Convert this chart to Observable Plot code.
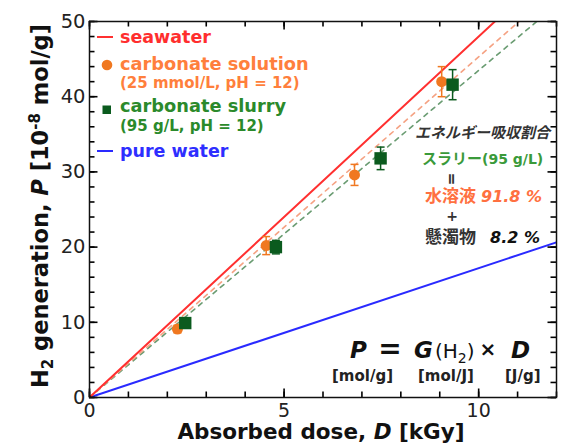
<!DOCTYPE html>
<html><head><meta charset="utf-8">
<script src="https://cdn.jsdelivr.net/npm/d3@7"></script>
<script src="https://cdn.jsdelivr.net/npm/@observablehq/plot@0.6"></script>
<style>body{margin:0;background:#fff;} #chart svg{display:block}</style>
</head><body><div id="chart"></div>
<script>
// ---- data ----
const doseSolution = [2.26, 4.54, 6.81, 9.05];
const genSolution  = [9.1, 20.2, 29.6, 42.0];
const errSolution  = [0.5, 1.2, 1.4, 2.0];
const doseSlurry   = [2.46, 4.79, 7.48, 9.33];
const genSlurry    = [9.9, 20.0, 31.8, 41.6];
const errSlurry    = [0.5, 0.9, 1.5, 2.0];
const fitNames  = ["seawater", "carbonate solution", "carbonate slurry", "pure water"];
const fitSlopes = [4.80, 4.53, 4.35, 1.72];   // G(H2), 10^-8 mol/g per kGy
const doseRange = [0, 12];
const genRange  = [0, 50];
const xMajorTicks = [0, 5, 10];
const yMajorTicks = [0, 10, 20, 30, 40, 50];
const xMinorTicks = d3.range(0, 13, 1);
const yMinorTicks = d3.range(0, 51, 2);

const solution = doseSolution.map((D, i) => ({D, P: genSolution[i], e: errSolution[i]}));
const slurry = doseSlurry.map((D, i) => ({D, P: genSlurry[i], e: errSlurry[i]}));
const fits = fitNames.map((name, i) => doseRange.map(D => ({name, D, P: D * fitSlopes[i]})));

const W = 563, H = 448, ML = 89, MR = 7, MT = 21, MB = 51;
const FW = W - ML - MR, FH = H - MT - MB;

const C = {
  sea: "#ff3030", solLine: "#f5a283", slurLine: "#6a9c72", pure: "#2a2aff",
  sol: "#f07820", slur: "#0b5b1e"
};
const cap = {draw(ctx) { ctx.moveTo(-4, 0); ctx.lineTo(4, 0); }};
const tk = {stroke: "#000", strokeWidth: 1.6};
const inTicks = (len, xs, ys) => [
  Plot.ruleX(xs, {x: d => d, insetTop: FH - len, ...tk}),
  Plot.ruleX(xs, {x: d => d, insetBottom: FH - len, ...tk}),
  Plot.ruleY(ys, {y: d => d, insetRight: FW - len, ...tk}),
  Plot.ruleY(ys, {y: d => d, insetLeft: FW - len, ...tk})
];

const plot = Plot.plot({
  width: W, height: H,
  marginLeft: ML, marginRight: MR, marginTop: MT, marginBottom: MB,
  x: {domain: doseRange},
  y: {domain: genRange},
  style: {fontFamily: "DejaVu Sans", background: "white", color: "#1a1a1a"},
  marks: [
    Plot.line(fits[3], {x: "D", y: "P", stroke: C.pure, strokeWidth: 2, clip: true}),
    Plot.line(fits[2], {x: "D", y: "P", stroke: C.slurLine, strokeWidth: 1.6, strokeDasharray: "4.5,5", clip: true}),
    Plot.line(fits[1], {x: "D", y: "P", stroke: C.solLine, strokeWidth: 1.6, strokeDasharray: "4.5,5", clip: true}),
    Plot.line(fits[0], {x: "D", y: "P", stroke: C.sea, strokeWidth: 2, clip: true}),
    Plot.ruleX(solution, {x: "D", y1: d => d.P - d.e, y2: d => d.P + d.e, stroke: C.sol, strokeWidth: 1.5}),
    Plot.dot(solution, {x: "D", y: d => d.P + d.e, symbol: cap, stroke: C.sol, strokeWidth: 1.5, fill: "none"}),
    Plot.dot(solution, {x: "D", y: d => d.P - d.e, symbol: cap, stroke: C.sol, strokeWidth: 1.5, fill: "none"}),
    Plot.ruleX(slurry, {x: "D", y1: d => d.P - d.e, y2: d => d.P + d.e, stroke: C.slur, strokeWidth: 1.5}),
    Plot.dot(slurry, {x: "D", y: d => d.P + d.e, symbol: cap, stroke: C.slur, strokeWidth: 1.5, fill: "none"}),
    Plot.dot(slurry, {x: "D", y: d => d.P - d.e, symbol: cap, stroke: C.slur, strokeWidth: 1.5, fill: "none"}),
    Plot.dot(solution, {x: "D", y: "P", r: 5.5, fill: C.sol, stroke: null}),
    Plot.dot(slurry, {x: "D", y: "P", r: 7, symbol: "square", fill: C.slur, stroke: null}),
    ...inTicks(5.5, xMinorTicks, yMinorTicks),
    ...inTicks(8.5, xMajorTicks, yMajorTicks),
    Plot.axisX(xMajorTicks, {anchor: "bottom", tickSize: 0, tickPadding: 6, label: null, fontSize: 19, fill: "#222"}),
    Plot.axisY(yMajorTicks, {anchor: "left", tickSize: 0, tickPadding: 4, label: null, fontSize: 19.5, fill: "#222"}),
    Plot.frame({stroke: "#111", strokeWidth: 1.5})
  ]
});
document.getElementById("chart").append(plot);

// ---- rich text annotations ----
const svg = d3.select(plot);
const DJ = "DejaVu Sans", JP = "'Noto Sans CJK JP', 'Noto Sans CJK SC', sans-serif";
function rich(x, y, parts, o = {}) {
  const t = svg.append("text").attr("x", x).attr("y", y)
    .attr("text-anchor", o.anchor || "start")
    .attr("font-family", o.family || DJ)
    .attr("font-size", o.size || 16)
    .attr("font-weight", o.weight || "bold")
    .attr("fill", o.fill || "#111");
  if (o.transform) t.attr("transform", o.transform);
  for (const p of parts) {
    const s = t.append("tspan").text(p.t);
    if (p.size) s.attr("font-size", p.size);
    if (p.weight) s.attr("font-weight", p.weight);
    if (p.style) s.attr("font-style", p.style);
    if (p.fill) s.attr("fill", p.fill);
    if (p.family) s.attr("font-family", p.family);
    if (p.dy) s.attr("dy", p.dy);
    if (p.dx) s.attr("dx", p.dx);
  }
  return t;
}

// axis titles
rich(0, 0, [
  {t: "H"}, {t: "2", size: 15, dy: 5}, {t: " generation, ", dy: -5}, {t: "P", style: "italic"},
  {t: " [10"}, {t: "-8", size: 15, dy: -8}, {t: " mol/g]", dy: 8}
], {anchor: "middle", size: 22.5, fill: "#111", transform: "translate(48,206) rotate(-90)"});
rich(321, 439, [{t: "Absorbed dose, "}, {t: "D", style: "italic"}, {t: " [kGy]"}],
  {anchor: "middle", size: 21.5, fill: "#111"});

// legend
const lg = svg.append("g");
lg.append("line").attr("x1", 97).attr("x2", 113).attr("y1", 37).attr("y2", 37).attr("stroke", C.sea).attr("stroke-width", 2);
lg.append("line").attr("x1", 97).attr("x2", 113).attr("y1", 151).attr("y2", 151).attr("stroke", C.pure).attr("stroke-width", 2);
lg.append("circle").attr("cx", 107).attr("cy", 65).attr("r", 5.3).attr("fill", C.sol);
lg.append("rect").attr("x", 102.5).attr("y", 105.5).attr("width", 8.5).attr("height", 8.5).attr("fill", C.slur);
rich(120, 43, [{t: "seawater"}], {size: 17.5, fill: "#ff2e2e"});
rich(120, 70, [{t: "carbonate solution"}], {size: 17.8, fill: "#ff7f3c"});
rich(120, 88, [{t: "(25 mmol/L, pH = 12)"}], {size: 15, fill: "#ff7f3c"});
rich(120, 112, [{t: "carbonate slurry"}], {size: 17.8, fill: "#2b8a2b"});
rich(120, 131, [{t: "(95 g/L, pH = 12)"}], {size: 15, fill: "#2b8a2b"});
rich(120, 157, [{t: "pure water"}], {size: 17.5, fill: "#2e2eff"});

// energy absorption ratio block
rich(482.5, 138, [{t: "エネルギー吸収割合"}], {anchor: "middle", family: JP, size: 15, fill: "#333", weight: "bold"}).attr("font-style", "italic");
rich(422, 163.5, [{t: "スラリー", family: JP, size: 15}, {t: "(95 g/L)", family: DJ, size: 14}], {fill: "#3a9a3a"});
rich(0, 0, [{t: "="}], {anchor: "middle", size: 15, fill: "#333", transform: "translate(452,179) rotate(90)"}).attr("dominant-baseline", "central");
rich(425, 202, [{t: "水溶液", family: JP, size: 17}, {t: "91.8 %", family: DJ, size: 16, style: "italic", dx: 5}], {fill: "#ff7040"});
rich(452, 216, [{t: "+"}], {anchor: "middle", size: 14, fill: "#333"}).attr("dominant-baseline", "central");
rich(425, 243, [{t: "懸濁物", family: JP, size: 17, fill: "#333"}, {t: "8.2 %", family: DJ, size: 16, style: "italic", dx: 14, fill: "#111"}], {fill: "#333"});

// formula P = G(H2) x D
rich(350, 358, [{t: "P"}], {size: 23, fill: "#111"}).attr("font-style", "italic");
rich(390, 358, [{t: "="}], {anchor: "middle", size: 28, fill: "#111"});
rich(414, 358, [{t: "G"}], {size: 23, fill: "#111"}).attr("font-style", "italic");
rich(435, 358, [{t: "(H"}, {t: "2", size: 14, dy: 5}, {t: ")", dy: -5}], {size: 20, weight: "normal", fill: "#111"});
rich(488, 356, [{t: "×"}], {anchor: "middle", size: 20, fill: "#111"});
rich(511, 358, [{t: "D"}], {size: 23, fill: "#111"}).attr("font-style", "italic");
rich(332, 381, [{t: "[mol/g]"}], {size: 15, fill: "#222"});
rich(418, 381, [{t: "[mol/J]"}], {size: 15, fill: "#222"});
rich(505, 381, [{t: "[J/g]"}], {size: 15, fill: "#222"});
</script></body></html>
